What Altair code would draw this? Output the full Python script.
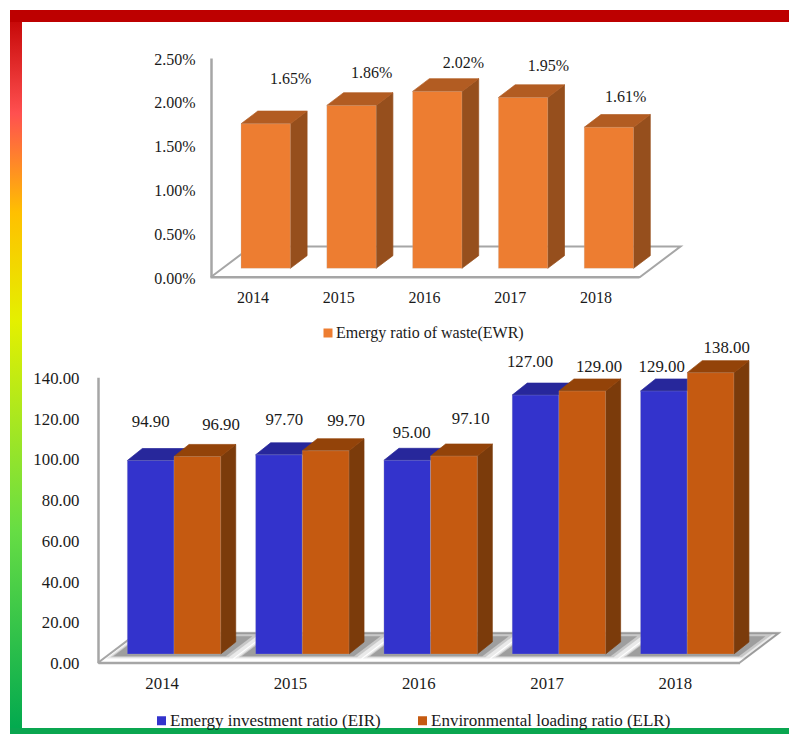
import altair as alt
import pandas as pd

# ---- chart values ----
years = ["2014", "2015", "2016", "2017", "2018"]
ewr = [0.0165, 0.0186, 0.0202, 0.0195, 0.0161]
eir = [94.9, 97.7, 95.0, 127.0, 129.0]
elr = [96.9, 99.7, 97.1, 129.0, 138.0]
ewr_name = "Emergy ratio of waste(EWR)"
eir_name = "Emergy investment ratio (EIR)"
elr_name = "Environmental loading ratio (ELR)"

# ---- layout ----
W, H = 781, 726
FONT = "Liberation Serif"
TXT = "#1a1a1a"
AXIS = "#a6a6a6"
EDGE = "#b8b8b8"
FS_TOP, FS_BOT = 16, 16.8


def poly_df(polys):
    rows = []
    for k, pts in enumerate(polys):
        for s, (x, y) in enumerate(pts):
            rows.append({"poly": k, "seq": s, "px": x, "py": y})
    return pd.DataFrame(rows)


class Panel:
    def __init__(self, xr, yr, ymax, floor_dx, floor_dy, lift, dep_x, dep_y):
        self.xs = alt.Scale(domain=[0, 5], range=xr, zero=False, nice=False)
        self.ys = alt.Scale(domain=[0, ymax], range=yr, zero=False, nice=False)
        self.floor_dx, self.floor_dy = floor_dx, floor_dy
        self.lift, self.dep_x, self.dep_y = lift, dep_x, dep_y
        self.ppu = (yr[0] - yr[1]) / ymax

    def poly(self, polys, fill, stroke=None, width=0.7, opacity=1.0):
        stroke = stroke or fill
        return alt.Chart(poly_df(polys)).mark_line(
            fill=fill, stroke=stroke, strokeWidth=width, opacity=opacity, strokeJoin="miter"
        ).encode(
            x=alt.X("px:Q", scale=self.xs, axis=None),
            y=alt.Y("py:Q", scale=self.ys, axis=None),
            detail="poly:N",
            order="seq:Q",
        )

    def floor(self):
        pts = [(0, 0), (5, 0), (5 + self.floor_dx, self.floor_dy), (self.floor_dx, self.floor_dy), (0, 0)]
        return alt.Chart(poly_df([pts])).mark_line(stroke=AXIS, strokeWidth=2, strokeJoin="miter").encode(
            x=alt.X("px:Q", scale=self.xs, axis=None),
            y=alt.Y("py:Q", scale=self.ys, axis=None),
            detail="poly:N",
            order="seq:Q",
        )

    def sides(self, lefts, width, vals, fill):
        out = []
        for l, v in zip(lefts, vals):
            r = l + width
            b, t = self.lift, self.lift + v
            out.append([(r, b), (r + self.dep_x, b + self.dep_y), (r + self.dep_x, t + self.dep_y), (r, t), (r, b)])
        return self.poly(out, fill)

    def tops(self, lefts, width, vals, fill):
        out = []
        for l, v in zip(lefts, vals):
            r = l + width
            t = self.lift + v
            out.append([(l, t), (r, t), (r + self.dep_x, t + self.dep_y), (l + self.dep_x, t + self.dep_y), (l, t)])
        return self.poly(out, fill)

    def fronts(self, lefts, width, vals, name, domain, colors, legend):
        df = pd.DataFrame({
            "x0": lefts,
            "x1": [l + width for l in lefts],
            "b": [self.lift] * len(lefts),
            "t": [self.lift + v for v in vals],
            "series": [name] * len(lefts),
        })
        return alt.Chart(df).mark_rect(stroke=EDGE, strokeWidth=0.4, strokeOpacity=0.6).encode(
            x=alt.X("x0:Q", scale=self.xs, axis=None),
            x2="x1:Q",
            y=alt.Y("b:Q", scale=self.ys, axis=None),
            y2="t:Q",
            color=alt.Color("series:N", scale=alt.Scale(domain=domain, range=colors), legend=legend),
        )

    def labels(self, lab_x, lab_y, vals, fmt, size):
        df = pd.DataFrame({"lx": lab_x, "ly": lab_y, "v": vals})
        return alt.Chart(df).mark_text(font=FONT, fontSize=size, color=TXT, baseline="middle", align="center").encode(
            x=alt.X("lx:Q", scale=self.xs, axis=None),
            y=alt.Y("ly:Q", scale=self.ys, axis=None),
            text=alt.Text("v:Q", format=fmt),
        )

    def y_axis_layer(self, ticks, fmt, x_pos, pad, size):
        return alt.Chart(pd.DataFrame({"tick": ticks})).mark_point(opacity=0).encode(
            y=alt.Y("tick:Q", scale=self.ys, axis=alt.Axis(
                orient="left", offset=-x_pos, values=ticks, format=fmt, title=None, grid=False, ticks=False,
                domain=True, domainColor=AXIS, domainWidth=2.5, labelFont=FONT, labelFontSize=size, labelColor=TXT,
                labelPadding=pad, labelBaseline="middle", labelOffset=1,
            )),
        )


def year_axis_layer(xrange, y_pos, pad, size):
    return alt.Chart(pd.DataFrame({"year": years})).mark_point(opacity=0).encode(
        x=alt.X("year:N", scale=alt.Scale(type="band", domain=years, range=xrange, paddingInner=0, paddingOuter=0),
                axis=alt.Axis(orient="bottom", offset=-(H - y_pos), title=None, grid=False, ticks=False,
                              domain=True, domainColor=AXIS, domainWidth=2, labelAngle=0, labelFont=FONT,
                              labelFontSize=size, labelColor=TXT, labelPadding=pad)),
    )


def legend(x, y, size, cols=1, colpad=10):
    return alt.Legend(
        orient="none", legendX=x, legendY=y, direction="horizontal", columns=cols, title=None,
        symbolType="square", symbolSize=81, symbolStrokeWidth=0, labelFont=FONT, labelFontSize=size,
        labelColor=TXT, labelOffset=0, columnPadding=colpad, padding=0, labelLimit=400,
    )


# ---- frame ----
grad = alt.Gradient(
    gradient="linear", x1=0, x2=0, y1=0, y2=1,
    stops=[
        alt.GradientStop(offset=0.0, color="#c00000"),
        alt.GradientStop(offset=0.143, color="#ff5050"),
        alt.GradientStop(offset=0.28, color="#ffc000"),
        alt.GradientStop(offset=0.43, color="#e4f000"),
        alt.GradientStop(offset=0.72, color="#66dd44"),
        alt.GradientStop(offset=1.0, color="#00a84f"),
    ],
)
one = pd.DataFrame({"a": [0]})
frame_left = alt.Chart(one).mark_rect(color=grad).encode(
    x=alt.value(2), x2=alt.value(14), y=alt.value(2), y2=alt.value(H))
frame_top = alt.Chart(one).mark_rect(color="#bd0000").encode(
    x=alt.value(2), x2=alt.value(W), y=alt.value(2), y2=alt.value(14))
frame_bottom = alt.Chart(one).mark_rect(color="#0aa650").encode(
    x=alt.value(2), x2=alt.value(W), y=alt.value(H - 6), y2=alt.value(H))

# ---- upper panel ----
top = Panel(xr=[203, 632], yr=[269, 50], ymax=0.025, floor_dx=0.472, floor_dy=0.00348,
            lift=0.00099, dep_x=0.195, dep_y=0.00145)
t_left = [i + 0.35 for i in range(5)]
t_w = 0.575
# label anchors in axis units
t_lab_x = [(x - 211) / 85.8 for x in [290.7, 371.7, 463.5, 548.3, 625.7]]
t_lab_y = [(277 - y) / 87.6 / 100 for y in [79, 73, 63.3, 65.7, 97.3]]
top_geom = alt.layer(
    top.floor(),
    top.sides(t_left, t_w, ewr, "#964f1d"),
    top.tops(t_left, t_w, ewr, "#b25c22"),
    top.fronts(t_left, t_w, ewr, ewr_name, [ewr_name], ["#ed7d31"], legend(312, 317, FS_TOP)),
    top.labels(t_lab_x, t_lab_y, ewr, ".2%", FS_TOP),
)
top_axis = top.y_axis_layer([0, 0.005, 0.01, 0.015, 0.02, 0.025], ".2%", 203, 16, FS_TOP)
top_years = year_axis_layer([202, 631], 269, 12, FS_TOP)

# ---- lower panel ----
bot = Panel(xr=[90, 731.5], yr=[654.7, 369.3], ymax=140, floor_dx=0.304, floor_dy=14.4,
            lift=4.27, dep_x=0.117, dep_y=5.9)
b_left = [i + 0.2285 for i in range(5)]
b_w1 = 0.364
b_mid = [l + b_w1 for l in b_left]
b_w2 = 0.364

PX = 128.3
PU = 2.0386
eir_lab_x = [(x - 98) / PX for x in [150.7, 284.3, 411.7, 530.0, 661.7]]
elr_lab_x = [(x - 98) / PX for x in [221.0, 346.0, 470.7, 599.0, 726.7]]
eir_lab_y = [(662.7 - y) / PU for y in [422.3, 420.0, 433.3, 362.3, 366.7]]
elr_lab_y = [(662.7 - y) / PU for y in [425.0, 421.0, 419.3, 366.7, 347.7]]

shadow_layers = []
for grow, op in [(8, 0.1), (4, 0.18), (1, 0.28)]:
    polys = []
    for l in b_left:
        base = (5.7 - grow * 0.3 + 1) / PU
        up = (19 + grow * 1.0) / PU
        xl = l - (13 + grow) / PX
        xr = l + (b_w1 + b_w2) + (4 + grow) / PX
        s = bot.floor_dx / bot.floor_dy * up
        polys.append([(xl, base), (xr, base), (xr + s, base + up), (xl + s, base + up), (xl, base)])
    shadow_layers.append(bot.poly(polys, "#333333", stroke="transparent", width=0, opacity=op))

both = [eir_name, elr_name]
both_cols = ["#3333cc", "#c55a11"]
bot_leg = legend(145, 704, FS_BOT + 0.2, 2, 33)
bot_geom = alt.layer(
    bot.floor(),
    *shadow_layers,
    bot.tops(b_left, b_w1, eir, "#27279b"),
    bot.fronts(b_left, b_w1, eir, eir_name, both, both_cols, bot_leg),
    bot.sides(b_mid, b_w2, elr, "#7b3b0b"),
    bot.tops(b_mid, b_w2, elr, "#934309"),
    bot.fronts(b_mid, b_w2, elr, elr_name, both, both_cols, bot_leg),
    bot.labels(eir_lab_x, eir_lab_y, eir, ".2f", FS_BOT),
    bot.labels(elr_lab_x, elr_lab_y, elr, ".2f", FS_BOT),
)
bot_axis = bot.y_axis_layer([0, 20, 40, 60, 80, 100, 120, 140], ".2f", 90, 19, FS_BOT)
bot_years = year_axis_layer([90, 731.5], 654.7, 13, FS_BOT)

chart = alt.layer(
    frame_left, frame_top, frame_bottom, top_axis, top_years, top_geom, bot_axis, bot_years, bot_geom
).resolve_scale(x="independent", y="independent", color="independent").properties(
    width=W, height=H, padding=0, autosize=alt.AutoSizeParams(type="none"), background="white",
).configure_view(stroke=None)

chart.save("out.html", embed_options={"renderer": "svg", "actions": False})
